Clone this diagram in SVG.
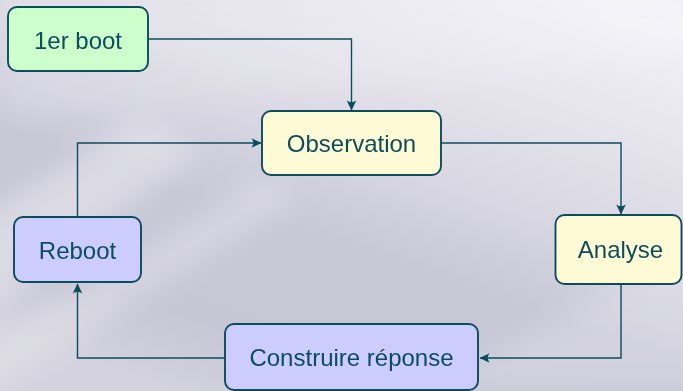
<svg xmlns="http://www.w3.org/2000/svg" width="683" height="391" viewBox="0 0 683 391">
  <defs>
    <linearGradient id="bg" x1="0.85" y1="0" x2="0.25" y2="1">
      <stop offset="0" stop-color="#f2f1f7"/>
      <stop offset="0.35" stop-color="#dedde7"/>
      <stop offset="0.62" stop-color="#c8c7d6"/>
      <stop offset="0.85" stop-color="#c7c6d5"/>
      <stop offset="1" stop-color="#d3d2de"/>
    </linearGradient>
    <filter id="soft" x="-20%" y="-20%" width="140%" height="140%">
      <feGaussianBlur stdDeviation="14"/>
    </filter>
    <marker id="arrow" viewBox="-12 -7 14 14" refX="0" refY="0" markerWidth="14" markerHeight="14" markerUnits="userSpaceOnUse" orient="auto">
      <path d="M0.5,0 L-9.5,-4.8 Q-6,0 -9.5,4.8 Z" fill="#0b4d5c"/>
    </marker>
    <style>
      .node rect { stroke: #0b4d5c; stroke-width: 1.9; }
      .node text { font-family: "Liberation Sans", Arial, sans-serif; font-size: 24px; fill: #0b4d5c; text-anchor: middle; }
      .green { fill: #ccffcc; }
      .yellow { fill: #fffad6; }
      .blue { fill: #ccccff; }
      #connectors path { fill: none; stroke: #0b4d5c; stroke-width: 1.4; marker-end: url(#arrow); }
    </style>
  </defs>

  <!-- background shading -->
  <rect x="0" y="0" width="683" height="391" fill="url(#bg)"/>
  <g filter="url(#soft)">
    <path d="M-40,230 L140,120 L200,150 L-40,330 Z" fill="#ffffff" opacity="0.35"/>
    <path d="M-40,360 L260,180 L300,200 L-40,410 Z" fill="#ffffff" opacity="0.25"/>
    <path d="M420,391 L700,240 L720,391 Z" fill="#ffffff" opacity="0.2"/>
    <path d="M0,0 L683,0 L683,60 L0,120 Z" fill="#ffffff" opacity="0.15"/>
  </g>

  <!-- connectors -->
  <g id="connectors">
    <path d="M148,39 H351.5 V110"/>
    <path d="M441,143 H621 V214"/>
    <path d="M621,284 V358 H480"/>
    <path d="M225,358 H77.5 V284"/>
    <path d="M77.5,217 V143 H261"/>
  </g>

  <!-- nodes -->
  <g id="node-1er-boot" class="node">
    <rect class="green" x="8" y="7" width="140" height="64" rx="9"/>
    <text x="78" y="48.5">1er boot</text>
  </g>
  <g id="node-observation" class="node">
    <rect class="yellow" x="262" y="111" width="179" height="64" rx="9"/>
    <text x="351.5" y="152">Observation</text>
  </g>
  <g id="node-analyse" class="node">
    <rect class="yellow" x="555.5" y="215" width="126" height="69" rx="9"/>
    <text x="620.5" y="258">Analyse</text>
  </g>
  <g id="node-reboot" class="node">
    <rect class="blue" x="14" y="217" width="127" height="65" rx="9"/>
    <text x="77.5" y="258.5">Reboot</text>
  </g>
  <g id="node-construire" class="node">
    <rect class="blue" x="225" y="324" width="253" height="66" rx="9"/>
    <text x="351.5" y="366">Construire réponse</text>
  </g>
</svg>
